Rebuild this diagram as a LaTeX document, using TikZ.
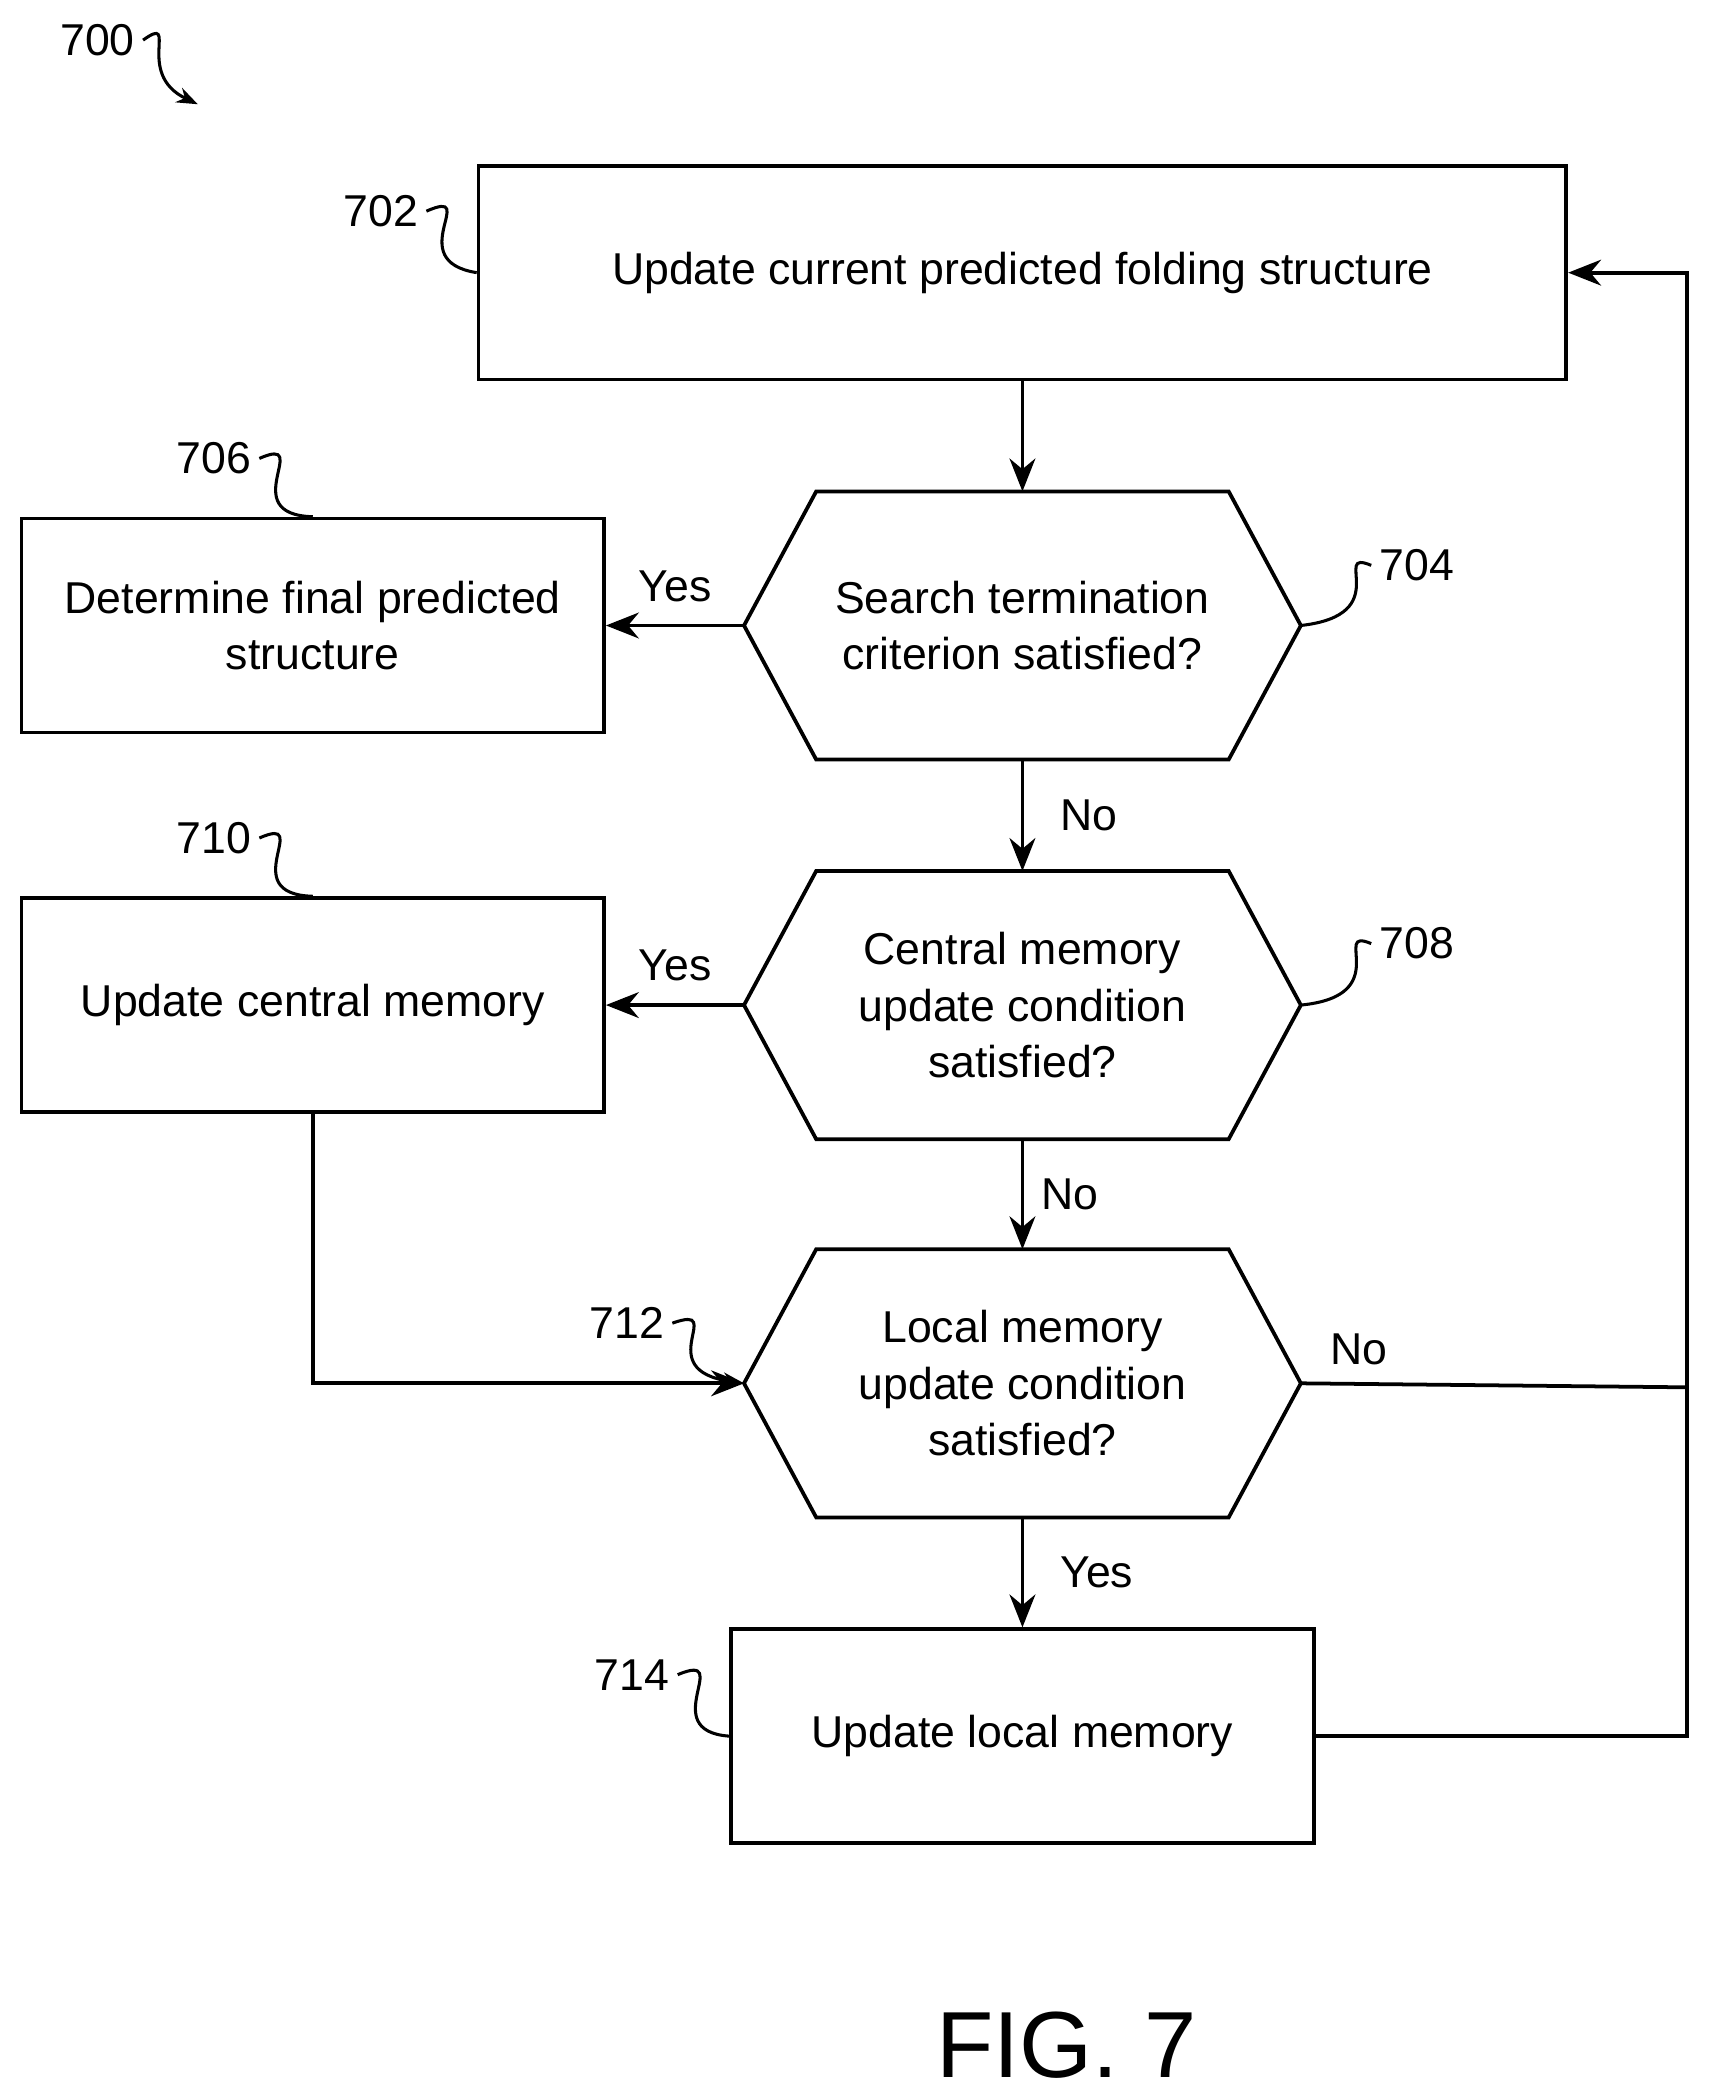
\documentclass[tikz,border=0pt]{standalone}
\usepackage{fontspec}
\setmainfont{Liberation Sans}
\usetikzlibrary{arrows.meta,positioning,calc}
\tikzset{
  box/.style={draw, line width=1.6pt, minimum height=3.2cm, align=center, inner sep=0pt},
  hexa/.style={minimum width=8.32cm, minimum height=4cm, align=center, inner sep=0pt},
  line/.style={line width=1.6pt},
  arr/.style={line, -{Stealth[length=14pt,width=11pt]}},
  lead/.style={line width=1.3pt},
}
\newcommand{\hexdraw}[1]{%
  \draw[line] (#1.west) -- ($(#1.north west)+(54,0)$) -- ($(#1.north east)+(-54,0)$)
    -- (#1.east) -- ($(#1.south east)+(-54,0)$) -- ($(#1.south west)+(54,0)$) -- cycle;}
\begin{document}
\begin{tikzpicture}[x=0.02cm, y=-0.02cm, every node/.style={font=\fontsize{19}{24}\selectfont}]
    \useasboundingbox (0,0) rectangle (1280,1569);

    % Boxes
    \node[box, minimum width=16.28cm] (upd) at (765,204) {Update current predicted folding structure};
    \node[box, minimum width=8.72cm] (final) at (234,468) {Determine final predicted\\structure};
    \node[box, minimum width=8.72cm] (central) at (234,752) {Update central memory};
    \node[box, minimum width=8.72cm] (local) at (765,1299) {Update local memory};

    % Decisions
    \node[hexa] (term) at (765,468) {Search termination\\criterion satisfied?};
    \node[hexa] (ccond) at (765,752) {Central memory\\update condition\\satisfied?};
    \node[hexa] (lcond) at (765,1035) {Local memory\\update condition\\satisfied?};
    \hexdraw{term}
    \hexdraw{ccond}
    \hexdraw{lcond}

    % Connectors
    \draw[arr] (upd) -- (term);
    \draw[arr] (term) -- node[right=12pt] {No} (ccond);
    \draw[arr] (ccond) -- node[right=4pt] {No} (lcond);
    \draw[arr] (lcond) -- node[right=12pt] {Yes} (local);
    \draw[arr] (term.west) -- node[above=6pt] {Yes} (final.east);
    \draw[arr] (ccond.west) -- node[above=6pt] {Yes} (central.east);
    \draw[arr] (central.south) |- (lcond.west);
    \coordinate (rt) at (1262,1299);
    \coordinate (rj) at (1262,1038);
    \draw[arr] (local.east) -- (rt) |- (upd.east);
    \draw[line] (lcond.east) -- node[above=4pt, pos=0.15] {No} (rj);

    % Reference numerals
    \node (n700) at (73,30) {700};
    \node (n702) at (285,158) {702};
    \node (n706) at (160,343) {706};
    \node (n704) at (1060,423) {704};
    \node (n708) at (1060,706) {708};
    \node (n710) at (160,627) {710};
    \node (n712) at (469,990) {712};
    \node (n714) at (473,1253) {714};
    \draw[lead, -{Stealth[length=9pt]}] (n700.east) .. controls (135,10) and (100,55) .. (148,78);
    \draw[lead] (n702.east) .. controls (360,140) and (300,195) .. (upd.west);
    \draw[lead] (n706.east) .. controls (235,325) and (175,385) .. (final.north);
    \draw[lead] (n710.east) .. controls (235,609) and (175,669) .. (central.north);
    \draw[lead] (n704.west) .. controls (995,410) and (1045,460) .. (term.east);
    \draw[lead] (n708.west) .. controls (995,693) and (1045,745) .. (ccond.east);
    \draw[lead, -{Stealth[length=9pt]}] (n712.east) .. controls (545,975) and (485,1025) .. (lcond.west);
    \draw[lead] (n714.east) .. controls (550,1235) and (490,1295) .. (local.west);

    % Figure label
    \node[font=\fontsize{40}{48}\selectfont] (fig) at (798,1530) {FIG. 7};
\end{tikzpicture}
\end{document}
